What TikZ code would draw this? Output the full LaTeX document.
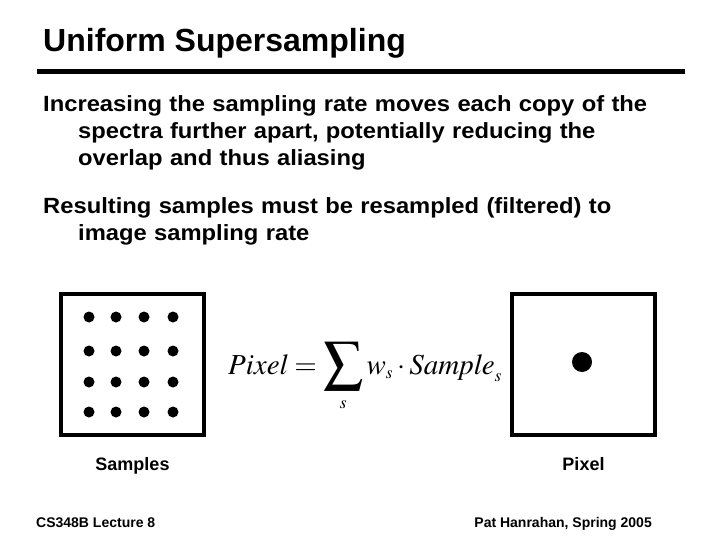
\documentclass[tikz,border=0pt]{standalone}
\usepackage{mathptmx}
\usepackage[no-math]{fontspec}
\setmainfont{Liberation Sans}
\newfontfamily\bodyfont[FakeStretch=1.08]{Liberation Sans}
\usetikzlibrary{positioning}
\newcommand{\hang}{\hspace*{35pt}}
\tikzset{
  heading/.style = {font=\fontsize{32}{38}\selectfont\bfseries, inner sep=0pt},
  body/.style    = {font=\bodyfont\fontsize{22}{27}\selectfont\bfseries, inner sep=0pt,
                    text width=650pt, align=left},
  panel/.style   = {draw, line width=3.5pt, minimum width=143pt, minimum height=141pt,
                    inner sep=0pt},
  sample/.style  = {circle, fill=black, inner sep=0pt, minimum size=11pt},
  caption/.style = {font=\fontsize{18}{22}\selectfont\bfseries, inner sep=0pt},
  foot/.style    = {font=\fontsize{14}{17}\selectfont\bfseries, inner sep=0pt},
  formula/.style = {font=\fontsize{29}{35}\selectfont, inner sep=0pt},
}
\begin{document}
\begin{tikzpicture}[x=1pt, y=-1pt]
\useasboundingbox (0,0) rectangle (720,540);

% ---- title and rule ----
\node[heading, anchor=base west] (title) at (43,52) {Uniform Supersampling};
\coordinate (ruleL) at (37,72);
\coordinate (ruleR) at (685,72);
\draw[line width=5pt] (ruleL) -- (ruleR);

% ---- bullet text ----
\node[body, anchor=north west] (para1) at (43,95)
  {Increasing the sampling rate moves each copy of the\\
   \hang spectra further apart, potentially reducing the\\
   \hang overlap and thus aliasing};
\node[body, anchor=north west] (para2) at (43,197)
  {Resulting samples must be resampled (filtered) to\\
   \hang image sampling rate};

% ---- left: the 4x4 samples ----
\node[panel] (smpbox) at (132.5,364.5) {};
\foreach \i/\x in {1/89,2/116,3/144,4/173}
  \foreach \j/\y in {1/317,2/351,3/382,4/412}
    \node[sample] (s-\i-\j) at (\x,\y) {};
\node[caption, below=21pt of smpbox] (smplbl) {Samples};

% ---- middle: the filter ----
\node[formula, anchor=base west] (eq) at (228,374)
  {$\displaystyle \mathit{Pixel}=
    \mathop{\vcenter{\hbox{\scalebox{1.35}{$\displaystyle\sum$}}}}\limits_{\scriptscriptstyle s}
    w_{\scriptscriptstyle s}\cdot\mathit{Sample}_{\scriptscriptstyle s}$};

% ---- right: the one pixel ----
\node[panel] (pixbox) at (583.5,364.5) {};
\node[sample, minimum size=20pt] (pix) at (582,362) {};
\node[caption, below=21pt of pixbox] (pixlbl) {Pixel};

% ---- footer ----
\node[foot, anchor=base west] (course) at (36,527) {CS348B Lecture 8};
\node[foot, anchor=base east] (author) at (652,527) {Pat Hanrahan, Spring 2005};

\end{tikzpicture}
\end{document}
